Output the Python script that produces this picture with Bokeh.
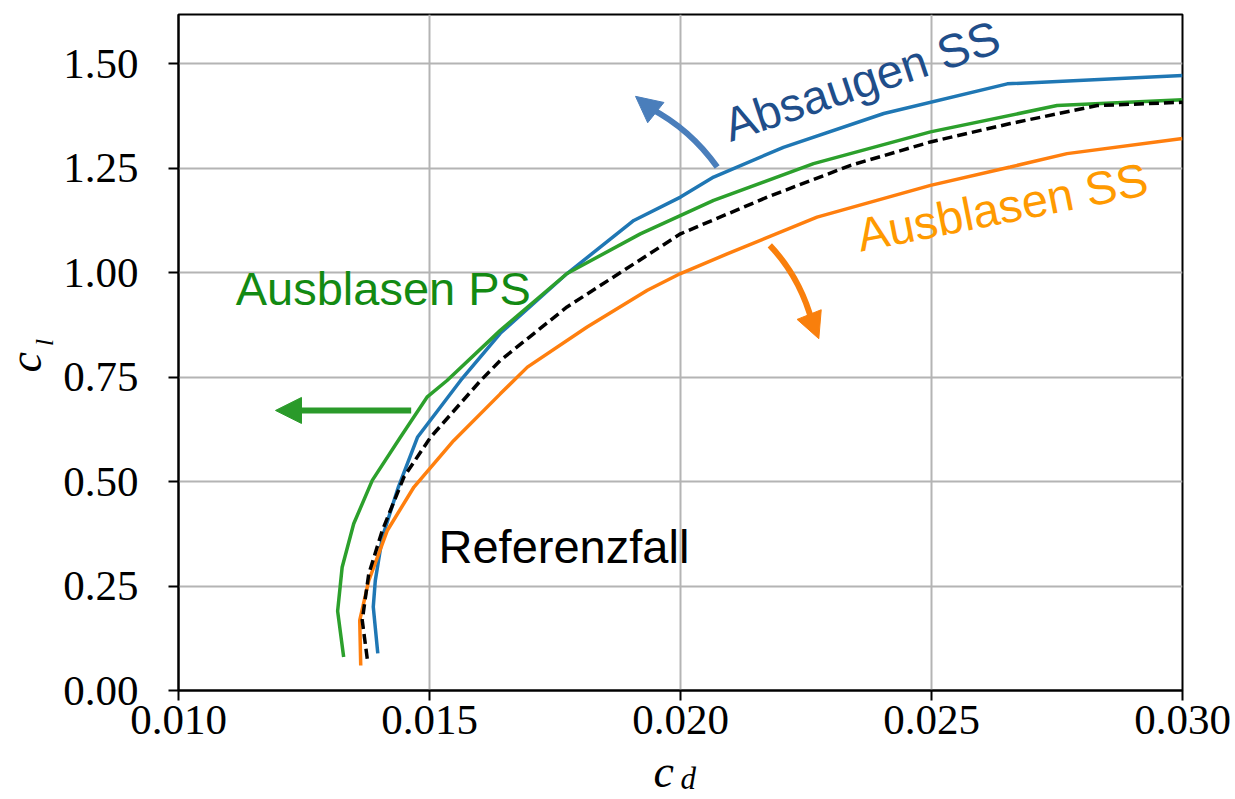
import numpy as np
from bokeh.plotting import figure
from bokeh.layouts import column, row
from bokeh.models import Range1d, FixedTicker, PrintfTickFormatter, Label, Arrow, NormalHead
from bokeh.core.properties import value
from bokeh.embed import file_html
from bokeh.resources import INLINE

# ---- data ----
cd_absaugen_ss = [0.01397, 0.01388, 0.01392, 0.01406, 0.01438, 0.01476, 0.01562, 0.01641, 0.01774,
                  0.01907, 0.02000, 0.02066, 0.02205, 0.02405, 0.02651, 0.03000]
cl_absaugen_ss = [0.089, 0.200, 0.263, 0.367, 0.487, 0.606, 0.742, 0.855, 0.998,
                  1.125, 1.181, 1.229, 1.300, 1.381, 1.452, 1.472]

cd_ausblasen_ps = [0.01329, 0.01317, 0.01326, 0.01349, 0.01386, 0.01442, 0.01495, 0.01535, 0.01641,
                   0.01774, 0.01920, 0.02066, 0.02265, 0.02498, 0.02750, 0.03000]
cl_ausblasen_ps = [0.080, 0.190, 0.295, 0.399, 0.503, 0.606, 0.702, 0.742, 0.862,
                   0.998, 1.093, 1.173, 1.261, 1.337, 1.400, 1.414]

cd_referenz = [0.01376, 0.01366, 0.01379, 0.01406, 0.01449, 0.01502, 0.01602, 0.01641, 0.01774,
               0.02000, 0.02173, 0.02339, 0.02498, 0.02657, 0.02830, 0.03000]
cl_referenz = [0.076, 0.168, 0.279, 0.383, 0.511, 0.606, 0.742, 0.790, 0.918,
               1.093, 1.181, 1.257, 1.313, 1.357, 1.400, 1.408]

cd_ausblasen_ss = [0.01363, 0.01361, 0.01379, 0.01416, 0.01469, 0.01548, 0.01641, 0.01695, 0.01814,
                   0.01934, 0.02000, 0.02093, 0.02272, 0.02498, 0.02657, 0.02770, 0.03000]
cl_ausblasen_ss = [0.060, 0.168, 0.263, 0.383, 0.487, 0.598, 0.710, 0.774, 0.870,
                   0.958, 0.998, 1.045, 1.133, 1.209, 1.253, 1.285, 1.321]

x_ticks = [0.010, 0.015, 0.020, 0.025, 0.030]
y_ticks = [0.00, 0.25, 0.50, 0.75, 1.00, 1.25, 1.50]

# annotation geometry (data units)
blue_arrow = dict(x0=0.020731, y0=1.2528, cx=0.020199, cy=1.3431, x1=0.019402, y1=1.3934, tx=0.019104, ty=1.4221)
orange_arrow = dict(x0=0.021779, y0=1.0654, cx=0.022380, cy=0.9896, x1=0.022623, y1=0.8817, tx=0.022755, ty=0.8420)
green_arrow = dict(x0=0.014635, y0=0.6703, tx=0.011932, ty=0.6703)

LEFT_W = 60
MAIN_H = 746
p = figure(width=1235 - LEFT_W, height=MAIN_H, output_backend="svg", toolbar_location=None,
           x_range=Range1d(0.010, 0.030), y_range=Range1d(0.0, 1.618),
           min_border_left=178 - LEFT_W, min_border_right=53, min_border_top=14, min_border_bottom=MAIN_H - 690)
p.background_fill_color = "white"
p.border_fill_color = "white"
p.outline_line_color = "black"
p.outline_line_width = 2

for ax in (p.xaxis[0], p.yaxis[0]):
    ax.axis_line_color = "black"
    ax.axis_line_width = 2
    ax.major_tick_line_color = "black"
    ax.major_tick_line_width = 2
    ax.major_tick_out = 10
    ax.major_tick_in = 0
    ax.minor_tick_line_color = None
    ax.major_label_text_font = "Liberation Serif"
    ax.major_label_text_font_size = "43px"
    ax.major_label_text_color = "black"

p.xaxis.ticker = FixedTicker(ticks=x_ticks)
p.yaxis.ticker = FixedTicker(ticks=y_ticks)
p.xaxis.formatter = PrintfTickFormatter(format="%.3f")
p.yaxis.formatter = PrintfTickFormatter(format="%.2f")
p.xaxis.major_label_standoff = 5
p.yaxis.major_label_standoff = 30

p.xgrid.ticker = FixedTicker(ticks=x_ticks)
p.ygrid.ticker = FixedTicker(ticks=y_ticks)
for g in (p.xgrid[0], p.ygrid[0]):
    g.grid_line_color = "#b4b4b4"
    g.grid_line_width = 2

# curves
p.line(cd_absaugen_ss, cl_absaugen_ss, line_color="#1f77b4", line_width=3.5)
p.line(cd_ausblasen_ps, cl_ausblasen_ps, line_color="#2ca02c", line_width=3.5)
p.line(cd_ausblasen_ss, cl_ausblasen_ss, line_color="#ff7f0e", line_width=3.5)
p.line(cd_referenz, cl_referenz, line_color="black", line_width=3.5, line_dash="10 5")

# curved arrows
p.quadratic(x0=[blue_arrow["x0"]], y0=[blue_arrow["y0"]], x1=[blue_arrow["x1"]], y1=[blue_arrow["y1"]],
            cx=[blue_arrow["cx"]], cy=[blue_arrow["cy"]], line_color="#4a7ebb", line_width=6)
p.add_layout(Arrow(x_start=blue_arrow["x1"], y_start=blue_arrow["y1"], x_end=blue_arrow["tx"], y_end=blue_arrow["ty"],
                   line_color="#4a7ebb", line_width=6,
                   end=NormalHead(size=26, fill_color="#4a7ebb", line_color="#4a7ebb")))

p.quadratic(x0=[orange_arrow["x0"]], y0=[orange_arrow["y0"]], x1=[orange_arrow["x1"]], y1=[orange_arrow["y1"]],
            cx=[orange_arrow["cx"]], cy=[orange_arrow["cy"]], line_color="#f97f0c", line_width=6)
p.add_layout(Arrow(x_start=orange_arrow["x1"], y_start=orange_arrow["y1"], x_end=orange_arrow["tx"], y_end=orange_arrow["ty"],
                   line_color="#f97f0c", line_width=6,
                   end=NormalHead(size=26, fill_color="#f97f0c", line_color="#f97f0c")))

p.add_layout(Arrow(x_start=green_arrow["x0"], y_start=green_arrow["y0"], x_end=green_arrow["tx"], y_end=green_arrow["ty"],
                   line_color="#2a9a2a", line_width=6,
                   end=NormalHead(size=26, fill_color="#2a9a2a", line_color="#2a9a2a")))

# text annotations (anchor = baseline-left in screen px, converted to data; compensated baseline shift)
XS = 50200.0   # px per unit cd
YS = 417.7     # px per unit cl
SHIFT = 0.36   # em

def lab(x, y, text, color, size_px, angle_deg=0.0):
    th = np.deg2rad(angle_deg)
    d = SHIFT * size_px
    xx = x - d * np.sin(th) / XS
    yy = y + d * np.cos(th) / YS
    p.add_layout(Label(x=xx, y=yy, text=text, text_color=color, text_font="Liberation Sans",
                       text_font_size=f"{size_px}px", angle=th, text_align="left", text_baseline="alphabetic"))

lab(0.02100, 1.312, "Absaugen SS", "#1f4e8a", 47, angle_deg=18.5)
lab(0.02359, 1.049, "Ausblasen SS", "#ff9a00", 47, angle_deg=11.2)
lab(0.01114, 0.922, "Ausblasen PS", "#138a13", 47)
lab(0.01518, 0.304, "Referenzfall", "black", 47)

# axis-label strips (pixel coordinates, y downwards)
def strip(w, h):
    f = figure(width=w, height=h, output_backend="svg", toolbar_location=None,
               x_range=Range1d(0, w), y_range=Range1d(h, 0),
               x_axis_location=None, y_axis_location=None,
               min_border=0, min_border_left=0, min_border_right=0, min_border_top=0, min_border_bottom=0)
    f.outline_line_color = None
    f.xgrid.visible = False
    f.ygrid.visible = False
    f.background_fill_color = "white"
    f.border_fill_color = "white"
    return f

def gtext(f, x, y, text, size_px, angle_deg=0.0):
    th = np.deg2rad(angle_deg)
    d = SHIFT * size_px
    f.text(x=[x - d * np.sin(th)], y=[y - d * np.cos(th)], text=[text], text_font=value("Liberation Serif"),
           text_font_style="italic", text_font_size=f"{size_px}px", text_color="black",
           angle=th, text_align="left", text_baseline="alphabetic")

left = strip(LEFT_W, MAIN_H)
gtext(left, 42, 395, "c", 46, angle_deg=90)
gtext(left, 53, 366, "l", 26, angle_deg=90)

bottom = strip(1235, 799 - MAIN_H)
gtext(bottom, 653, 788 - MAIN_H, "c", 46)
gtext(bottom, 680, 789 - MAIN_H, "d", 31)

layout = column(row(left, p, spacing=0), bottom, spacing=0)
open("out.html", "w").write(file_html(layout, INLINE))
